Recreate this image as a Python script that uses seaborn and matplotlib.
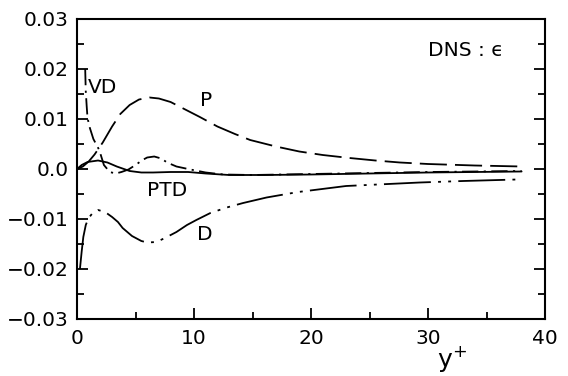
import numpy as np
import pandas as pd
import matplotlib
matplotlib.use("Agg")
import matplotlib.pyplot as plt
import seaborn as sns

# Budget of the dissipation rate epsilon near the wall (DNS)
p_y = [0.0, 0.5, 1.0, 1.5, 2.2, 3.0, 3.7, 4.5, 5.3, 6.2, 7.0, 8.0, 9.0, 10.5,
       12.0, 13.5, 14.8, 17.0, 19.0, 21.0, 23.3, 25.5, 27.6, 30.0, 34.0, 38.0]
p_val = [0.0, 0.0005, 0.0015, 0.0029, 0.0053, 0.0085, 0.0110, 0.0128, 0.0139,
         0.0143, 0.0141, 0.0134, 0.0122, 0.0104, 0.0085, 0.0070, 0.0058,
         0.0045, 0.0035, 0.0028, 0.0022, 0.0017, 0.0013, 0.0010, 0.0007, 0.0005]

d_y = [0.25, 0.4, 0.54, 0.75, 0.97, 1.3, 1.8, 2.4, 3.0, 3.5, 3.9, 4.7, 5.5,
       6.0, 6.8, 7.6, 8.5, 9.4, 10.2, 11.4, 12.8, 14.2, 16.2, 18.9, 23.0,
       29.3, 33.0, 37.6]
d_val = [-0.0200, -0.0165, -0.0136, -0.0112, -0.0099, -0.0089, -0.0082,
         -0.0086, -0.0096, -0.0106, -0.0118, -0.0134, -0.0144, -0.0147,
         -0.0146, -0.0137, -0.0126, -0.0112, -0.0102, -0.0088, -0.0077,
         -0.0068, -0.0057, -0.0046, -0.0034, -0.0027, -0.0024, -0.0021]

vd_y = [0.7, 0.75, 0.83, 0.9, 1.1, 1.4, 1.9, 2.3, 2.8, 3.3, 3.8, 4.4, 5.0,
        5.6, 6.0, 6.6, 7.2, 7.7, 8.5, 9.7, 11.0, 12.5, 15.0, 20.0, 25.0,
        30.0, 38.0]
vd_val = [0.0200, 0.0155, 0.0125, 0.0102, 0.0082, 0.0060, 0.0038, 0.0008,
          -0.0006, -0.0009, -0.0006, -0.0001, 0.0008, 0.0018, 0.0023, 0.0025,
          0.0021, 0.0013, 0.0005, -0.0001, -0.0007, -0.0011, -0.0012, -0.0010,
          -0.0008, -0.0006, -0.0004]

ptd_y = [0.0, 0.4, 0.9, 1.8, 2.6, 3.4, 4.5, 5.5, 6.5, 8.0, 9.5, 11.0, 13.0,
         16.0, 20.0, 25.0, 30.0, 38.0]
ptd_val = [0.0, 0.0008, 0.0014, 0.0017, 0.0013, 0.0005, -0.0004, -0.0007,
           -0.0007, -0.0006, -0.0006, -0.0009, -0.0012, -0.0012, -0.0011,
           -0.0009, -0.0007, -0.0005]

x_ticks = [0, 10, 20, 30, 40]
y_ticks = [-0.03, -0.02, -0.01, 0.0, 0.01, 0.02, 0.03]
y_tick_labels = ["\u22120.03", "\u22120.02", "\u22120.01", "0.0", "0.01", "0.02", "0.03"]

frames = []
for name, xs, ys in [("P", p_y, p_val), ("D", d_y, d_val),
                     ("VD", vd_y, vd_val), ("PTD", ptd_y, ptd_val)]:
    frames.append(pd.DataFrame({"yplus": xs, "value": ys, "term": name}))
df = pd.concat(frames, ignore_index=True)

sns.set_theme(style="ticks")
plt.rcParams["font.family"] = ["DejaVu Sans"]
plt.rcParams["mathtext.fontset"] = "dejavusans"

fig = plt.figure(figsize=(5.68, 3.76), dpi=100)
ax = fig.add_axes([77 / 568, 1 - 319 / 376, 468 / 568, 300 / 376])

lw = 1.3
sns.lineplot(data=df, x="yplus", y="value", hue="term", style="term",
             hue_order=["P", "D", "VD", "PTD"], style_order=["P", "D", "VD", "PTD"],
             palette={"P": "black", "D": "black", "VD": "black", "PTD": "black"},
             dashes={"P": (15, 4.5), "D": (26, 4, 1.6, 4, 1.6, 4),
                     "VD": (9, 3, 1.2, 3), "PTD": ""},
             sort=False, estimator=None, linewidth=lw, legend=False, ax=ax)

ax.set_xlim(0, 40)
ax.set_ylim(-0.03, 0.03)
ax.set_xticks(x_ticks)
ax.set_xticklabels([str(t) for t in x_ticks])
ax.set_xticks([5, 15, 25, 35], minor=True)
ax.set_yticks(y_ticks)
ax.set_yticklabels(y_tick_labels)
ax.set_yticks(np.arange(-0.025, 0.03, 0.01), minor=True)

for s in ax.spines.values():
    s.set_linewidth(1.5)
    s.set_color("black")

ax.tick_params(axis="both", which="both", direction="in", colors="black",
               labelsize=14.5, width=1.3)
ax.tick_params(axis="both", which="major", length=8)
ax.tick_params(axis="both", which="minor", length=5)
ax.tick_params(axis="y", which="both", right=True, labelright=False, pad=6)
ax.tick_params(axis="x", which="both", top=False, pad=7)

ax.set_xlabel(r"$\mathrm{y}^{+}$", fontsize=18, color="black")
ax.set_ylabel("")
ax.xaxis.set_label_coords((452 - 77) / 468, -0.085)

txt = dict(fontsize=14.5, color="black", ha="center", va="center")
ax.text(2.2, 0.0163, "VD", **txt)
ax.text(11.0, 0.0138, "P", **txt)
ax.text(7.7, -0.0044, "PTD", **txt)
ax.text(10.9, -0.0132, "D", **txt)
ax.text(33.2, 0.0237, "DNS : \u03f5", **txt)

fig.savefig("out.png", dpi=100)
